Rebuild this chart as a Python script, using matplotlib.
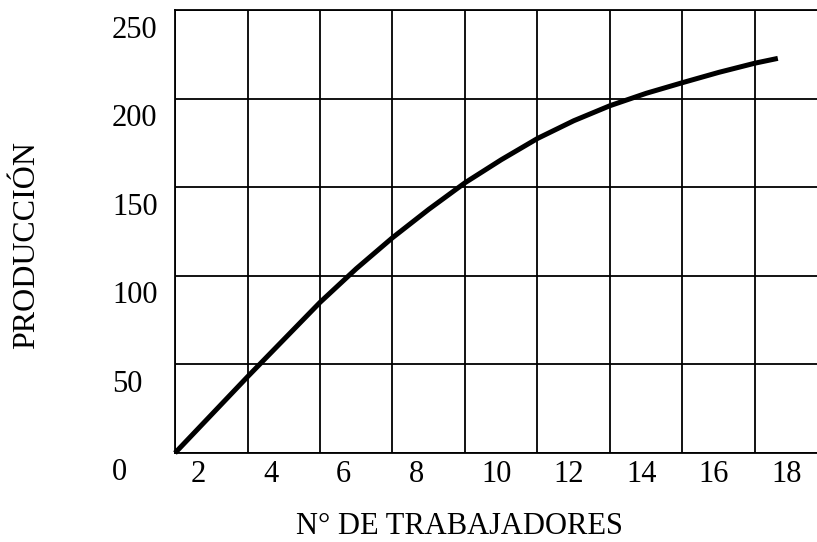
#!/usr/bin/env python
# -*- coding: utf-8 -*-

import matplotlib
matplotlib.use('Agg')
import matplotlib.pyplot as plt
import matplotlib.transforms as mtransforms

# Data
trabajadores = [2, 3, 4, 5, 6, 7, 8, 9, 10, 11, 12, 13, 14, 15, 16, 17, 18, 18.63]
produccion   = [0, 21.5, 43, 64, 85, 104, 121.5, 137.5, 152.5, 165.5, 177.5, 187.5,
                196, 203, 209, 214.8, 220, 222.7]

x_ticks = [2, 4, 6, 8, 10, 12, 14, 16, 18]
y_ticks = [0, 50, 100, 150, 200, 250]

FONT = 'Liberation Serif'
W, H, DPI = 817, 542, 100

fig = plt.figure(figsize=(W / DPI, H / DPI), dpi=DPI)
ax = fig.add_axes([175 / W, 89 / H, 642 / W, 443 / H])

ax.set_xlim(2, 2 + 642 / 36.25)
ax.set_ylim(0, 250)

ax.set_xticks(x_ticks)
ax.set_yticks(y_ticks)
ax.tick_params(length=0, labelbottom=False, labelleft=False)
ax.grid(True, color='black', linewidth=1.3)
ax.set_axisbelow(True)
for side in ['left', 'bottom', 'top']:
    ax.spines[side].set_linewidth(1.3)
ax.spines['right'].set_visible(False)

ax.plot(trabajadores, produccion, color='black', linewidth=3.6,
        solid_capstyle='butt', solid_joinstyle='round', zorder=3, clip_on=False)

# tick labels sit a little off their grid lines, as in the original
px = fig.dpi_scale_trans
x_off = ax.transData + mtransforms.ScaledTranslation(16 / DPI, 0, px)
x_trans = mtransforms.blended_transform_factory(x_off, fig.transFigure)
for v in x_ticks:
    ax.text(v, (H - 474) / H, str(v), transform=x_trans, ha='left', va='center',
            fontsize=22, family=FONT)

y_off = ax.transData + mtransforms.ScaledTranslation(0, -20 / DPI, px)
y_trans = mtransforms.blended_transform_factory(fig.transFigure, y_off)
for v in y_ticks:
    ax.text(112 / W, v, str(v), transform=y_trans, ha='left', va='center',
            fontsize=22, family=FONT)

fig.text(459 / W, (H - 534) / H, 'N° DE TRABAJADORES', ha='center', va='baseline',
         fontsize=22, family=FONT)
fig.text(27 / W, (H - 245) / H, 'PRODUCCIÓN', ha='center', va='center',
         rotation=90, fontsize=23, family=FONT)

fig.savefig('out.png', dpi=DPI)
